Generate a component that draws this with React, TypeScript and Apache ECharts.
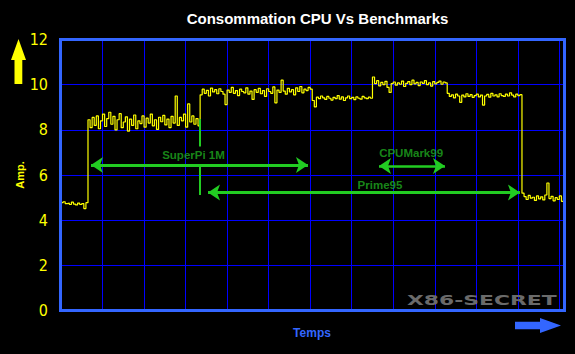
import React, { useEffect, useRef } from "react";
import * as echarts from "echarts";

// ---- Data (time units: one vertical gridline every 10) ----
const idleStart = 0;
const idleValues = [4.78, 4.82, 4.74, 4.76, 4.7, 4.8, 4.72, 4.68, 4.76, 4.7, 4.74, 4.52, 4.78];

const superPiStart = 6.5;
const superPiValues = [
  8.45, 8.1, 8.55, 8.2, 8.62, 8.05, 8.4, 8.7, 8.15, 8.5,
  8.78, 8.25, 8.6, 8.0, 8.45, 8.72, 8.1, 8.35, 8.58, 7.95,
  8.48, 8.2, 8.66, 8.05, 8.4, 8.28, 8.62, 8.12, 8.52, 8.3,
  8.7, 8.18, 8.45, 8.02, 8.56, 8.36, 8.64, 8.22, 8.48, 8.1,
  8.6, 8.3, 9.5, 8.2, 8.55, 8.4, 8.7, 8.12, 9.15, 8.35,
  8.62, 8.25, 8.5, 8.18,
];

const primeStart = 33.5;
const primeValues = [
  9.55, 9.8, 9.62, 9.75, 9.5, 9.85, 9.68, 9.78, 9.6, 9.82,
  9.7, 9.58, 9.12, 9.76, 9.66, 9.88, 9.62, 9.74, 9.52, 9.8,
  9.7, 9.64, 9.86, 9.58, 9.72, 9.35, 9.78, 9.66, 9.84, 9.6,
  9.74, 9.48, 9.82, 9.7, 9.62, 9.9, 9.2, 9.76, 9.66, 10.2,
  9.72, 9.58, 9.84, 9.68, 9.78, 9.55, 9.86, 9.7, 9.92, 9.64,
  9.8, 9.74, 9.88, 9.8,
];

const primeOnlyStart = 60.5;
const primeOnlyValues = [
  9.3, 9.02, 9.45, 9.38, 9.5, 9.42, 9.35, 9.48, 9.4, 9.32,
  9.44, 9.38, 9.52, 9.36, 9.46, 9.3, 9.42, 9.5, 9.38, 9.44,
  9.34, 9.46, 9.4, 9.36, 9.48, 9.42, 9.38, 9.45, 9.4,
];

const cpuMarkStart = 75;
const cpuMarkValues = [
  10.34, 10.05, 10.18, 9.95, 10.1, 10.0, 10.15, 9.88, 9.66, 10.05,
  10.12, 9.98, 10.08, 10.02, 10.16, 9.92, 10.06, 10.14, 10.0, 10.2,
  10.04, 10.1, 9.96, 10.12, 10.06, 10.18, 10.0, 10.08, 9.94, 10.14,
  10.04, 10.1, 10.16, 10.02, 10.12, 10.08,
];

const primeEndStart = 93;
const primeEndValues = [
  9.62, 9.48, 9.55, 9.42, 9.58, 9.5, 9.22, 9.54, 9.46, 9.6,
  9.48, 9.56, 9.44, 9.52, 9.58, 9.46, 9.54, 9.1, 9.5, 9.57,
  9.45, 9.62, 9.5, 9.55, 9.46, 9.6, 9.52, 9.48, 9.58, 9.5,
  9.64, 9.54, 9.46, 9.58, 9.52, 9.56,
];

const idleEndStart = 111;
const idleEndValues = [
  5.2, 5.05, 4.92, 5.1, 4.98, 5.02, 4.88, 5.08, 4.95, 5.04,
  4.9, 5.12, 5.65, 4.96, 5.06, 4.86, 5.0, 4.92, 5.08, 4.84,
  5.02,
];

const sampleStep = 0.5;

const yTicks = [0, 2, 4, 6, 8, 10, 12];

// Benchmark annotations (time range, amplitude level)
const arrowNames = ["SuperPi 1M", "Prime95", "CPUMark99"];
const arrowFrom = [7.22, 35.4, 76.57];
const arrowTo = [59.47, 110.5, 92.46];
const arrowLevel = [6.45, 5.23, 6.4];
const arrowWidth = [3, 3, 2.5];
const labelTime = [31.9, 76.8, 84.3];
const labelLevel = [6.91, 5.56, 7.0];

// Green start marker of Prime95
const markerTime = 33.45;
const markerUpper = [8.48, 7.26];
const markerLower = [6.42, 5.12];

function segment(start: number, values: number[]) {
  return values.map((v, i) => [start + i * sampleStep, v]);
}

export default function App() {
  const ref = useRef<HTMLDivElement>(null);

  useEffect(() => {
    if (!ref.current) return;
    const chart = echarts.init(ref.current, undefined, { renderer: "svg" });

    const signal = [
      ...segment(idleStart, idleValues),
      ...segment(superPiStart, superPiValues),
      ...segment(primeStart, primeValues),
      ...segment(primeOnlyStart, primeOnlyValues),
      ...segment(cpuMarkStart, cpuMarkValues),
      ...segment(primeEndStart, primeEndValues),
      ...segment(idleEndStart, idleEndValues),
    ];

    const arrowLines: any[] = arrowNames.map((_, i) => [
      { coord: [arrowFrom[i], arrowLevel[i]], lineStyle: { width: arrowWidth[i], color: "#22cc22", type: "solid" } },
      { coord: [arrowTo[i], arrowLevel[i]] },
    ]);
    arrowLines.push([
      { coord: [markerTime, markerUpper[0]], symbol: "none", lineStyle: { width: 2, color: "#22cc22", type: "solid" } },
      { coord: [markerTime, markerUpper[1]], symbol: "none" },
    ]);
    arrowLines.push([
      { coord: [markerTime, markerLower[0]], symbol: "none", lineStyle: { width: 2, color: "#22cc22", type: "solid" } },
      { coord: [markerTime, markerLower[1]], symbol: "none" },
    ]);

    const option: any = {
      animation: false,
      backgroundColor: "#000000",
      grid: { left: 61, right: 11.5, top: 39.5, bottom: 43.3, containLabel: false },
      xAxis: {
        type: "value",
        min: 0,
        max: 121,
        interval: 10,
        axisLine: { show: false },
        axisTick: { show: false },
        axisLabel: { show: false },
        splitLine: { show: true, lineStyle: { color: "#0000ff", width: 1 } },
      },
      yAxis: {
        type: "value",
        min: yTicks[0],
        max: yTicks[yTicks.length - 1],
        interval: 2,
        axisLine: { show: false },
        axisTick: { show: false },
        axisLabel: {
          color: "#ffff00",
          fontSize: 16,
          fontFamily: "'Liberation Sans Narrow', 'DejaVu Sans Condensed', sans-serif",
          margin: 13,
        },
        splitLine: { show: true, lineStyle: { color: "#0000ff", width: 1 } },
      },
      series: [
        {
          type: "line",
          data: signal,
          step: "end",
          showSymbol: false,
          symbol: "none",
          lineStyle: { color: "#ffff00", width: 1.2 },
          z: 3,
          markLine: {
            silent: true,
            animation: false,
            symbol: ["arrow", "arrow"],
            symbolSize: [12, 12],
            label: { show: false },
            emphasis: { disabled: true },
            lineStyle: { color: "#22cc22", width: 3, type: "solid" },
            itemStyle: { color: "#22cc22" },
            data: arrowLines,
          },
        },
        {
          type: "scatter",
          symbolSize: 0,
          silent: true,
          data: arrowNames.map((n, i) => ({ name: n, value: [labelTime[i], labelLevel[i]] })),
          label: {
            show: true,
            position: "inside",
            formatter: "{b}",
            color: "#1faa1f",
            fontSize: 11.5,
            fontWeight: "bold",
            fontFamily: "'Liberation Sans', Arial, sans-serif",
          },
          z: 5,
        },
      ],
      graphic: [
        {
          type: "rect",
          z: 100,
          silent: true,
          shape: { x: 60.5, y: 39.5, width: 504, height: 271 },
          style: { fill: "none", stroke: "#3366ff", lineWidth: 3 },
        },
        {
          type: "text",
          x: 317.5,
          y: 18,
          z: 100,
          style: {
            text: "Consommation CPU Vs Benchmarks",
            fill: "#ffffff",
            fontSize: 15,
            fontWeight: "bold",
            fontFamily: "'Liberation Sans', Arial, sans-serif",
            align: "center",
            verticalAlign: "middle",
          },
        },
        {
          type: "polygon",
          z: 100,
          shape: {
            points: [
              [18.5, 39],
              [26, 60],
              [22.3, 60],
              [22.3, 84],
              [14.5, 84],
              [14.5, 60],
              [11, 60],
            ],
          },
          style: { fill: "#ffff00" },
        },
        {
          type: "text",
          x: 20,
          y: 175,
          rotation: Math.PI / 2,
          z: 100,
          style: {
            text: "Amp.",
            fill: "#ffff00",
            fontSize: 11,
            fontWeight: "bold",
            fontFamily: "'Liberation Sans', Arial, sans-serif",
            align: "center",
            verticalAlign: "middle",
          },
        },
        {
          type: "text",
          x: 312,
          y: 333,
          z: 100,
          style: {
            text: "Temps",
            fill: "#3366ff",
            fontSize: 12,
            fontWeight: "bold",
            fontFamily: "'Liberation Sans', Arial, sans-serif",
            align: "center",
            verticalAlign: "middle",
          },
        },
        {
          type: "polygon",
          z: 100,
          shape: {
            points: [
              [515, 321.7],
              [540, 321.7],
              [540, 318],
              [561, 325.5],
              [540, 333],
              [540, 329.3],
              [515, 329.3],
            ],
          },
          style: { fill: "#3366ff" },
        },
        {
          type: "text",
          x: 407,
          y: 300,
          scaleX: 1.62,
          z: 100,
          style: {
            text: "X86-SECRET",
            fill: "#6a6a6a",
            fontSize: 13.5,
            fontWeight: "bold",
            fontFamily: "'DejaVu Sans', sans-serif",
            align: "left",
            verticalAlign: "middle",
          },
        },
      ],
    };

    chart.setOption(option);
    return () => chart.dispose();
  }, []);

  return (
    <div
      ref={ref}
      style={{ position: "fixed", left: 0, top: 0, width: 575, height: 354 }}
    />
  );
}
